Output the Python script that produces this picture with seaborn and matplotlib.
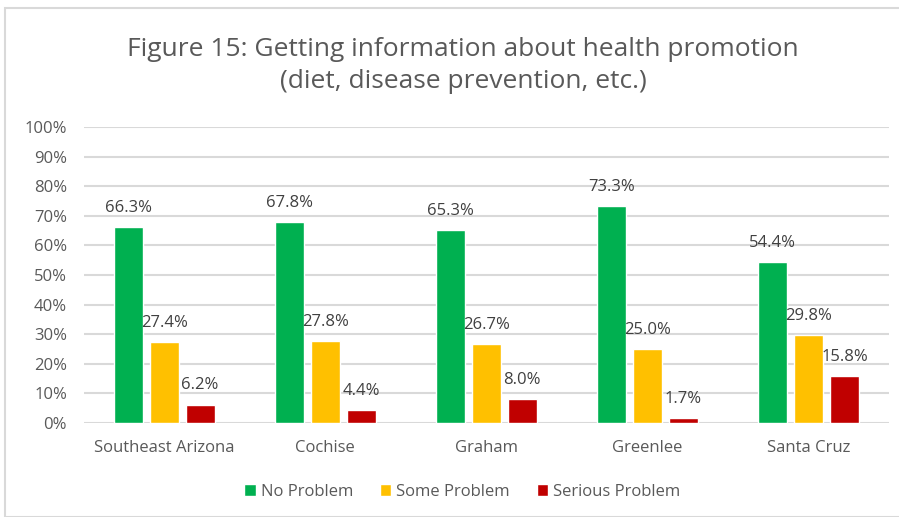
import matplotlib
matplotlib.use("Agg")
import matplotlib.pyplot as plt
import seaborn as sns
import pandas as pd
from matplotlib.patches import Rectangle

categories = ["Southeast Arizona", "Cochise", "Graham", "Greenlee", "Santa Cruz"]
series_names = ["No Problem", "Some Problem", "Serious Problem"]
no_problem = [66.3, 67.8, 65.3, 73.3, 54.4]
some_problem = [27.4, 27.8, 26.7, 25.0, 29.8]
serious_problem = [6.2, 4.4, 8.0, 1.7, 15.8]
colors = ["#00B050", "#FFC000", "#C00000"]
title = "Figure 15: Getting information about health promotion\n(diet, disease prevention, etc.)"

rows = []
for name, vals in zip(series_names, [no_problem, some_problem, serious_problem]):
    for c, v in zip(categories, vals):
        rows.append({"Region": c, "Response": name, "Value": v})
df = pd.DataFrame(rows)

sns.set_theme(style="white")
plt.rcParams["font.family"] = ["Open Sans", "DejaVu Sans"]
text_color = "#595959"

fig = plt.figure(figsize=(8.99, 5.17), dpi=100)
ax = fig.add_axes([0.093, 0.182, 0.896, 0.572])

sns.barplot(data=df, x="Region", y="Value", hue="Response", order=categories,
            hue_order=series_names, palette=colors, width=0.67, gap=0.2,
            ax=ax, saturation=1, legend=True, zorder=3)

for container in ax.containers:
    labels = [f"{b.get_height():.1f}%" for b in container]
    ax.bar_label(container, labels=labels, padding=8, fontsize=12, color="#404040")

ax.set_ylim(0, 100)
ax.set_yticks(range(0, 101, 10))
ax.set_yticklabels([f"{v}%" for v in range(0, 101, 10)])
ax.set_xlim(-0.5, len(categories) - 0.5)
ax.yaxis.grid(True, color="#d9d9d9", linewidth=1.5, zorder=0)
ax.set_axisbelow(True)
for s in ax.spines.values():
    s.set_visible(False)
ax.set_xlabel("")
ax.set_ylabel("")
ax.tick_params(axis="both", length=0, labelsize=12, colors=text_color)
ax.tick_params(axis="x", pad=12)
ax.tick_params(axis="y", pad=12)

leg = ax.legend(loc="upper center", bbox_to_anchor=(0.47, -0.155), ncol=3, frameon=False,
                fontsize=12, handlelength=0.7, handleheight=0.7, handletextpad=0.3,
                columnspacing=1.6)
for t in leg.get_texts():
    t.set_color(text_color)

fig.text(0.515, 0.873, title, ha="center", va="center", fontsize=19,
         color="#595959", linespacing=1.4)

fig.patches.append(Rectangle((5 / 899, 0.0), 1.0, 1 - 8 / 517, transform=fig.transFigure,
                             fill=False, edgecolor="#d9d9d9", linewidth=1.5))

fig.savefig("out.png", dpi=100)
